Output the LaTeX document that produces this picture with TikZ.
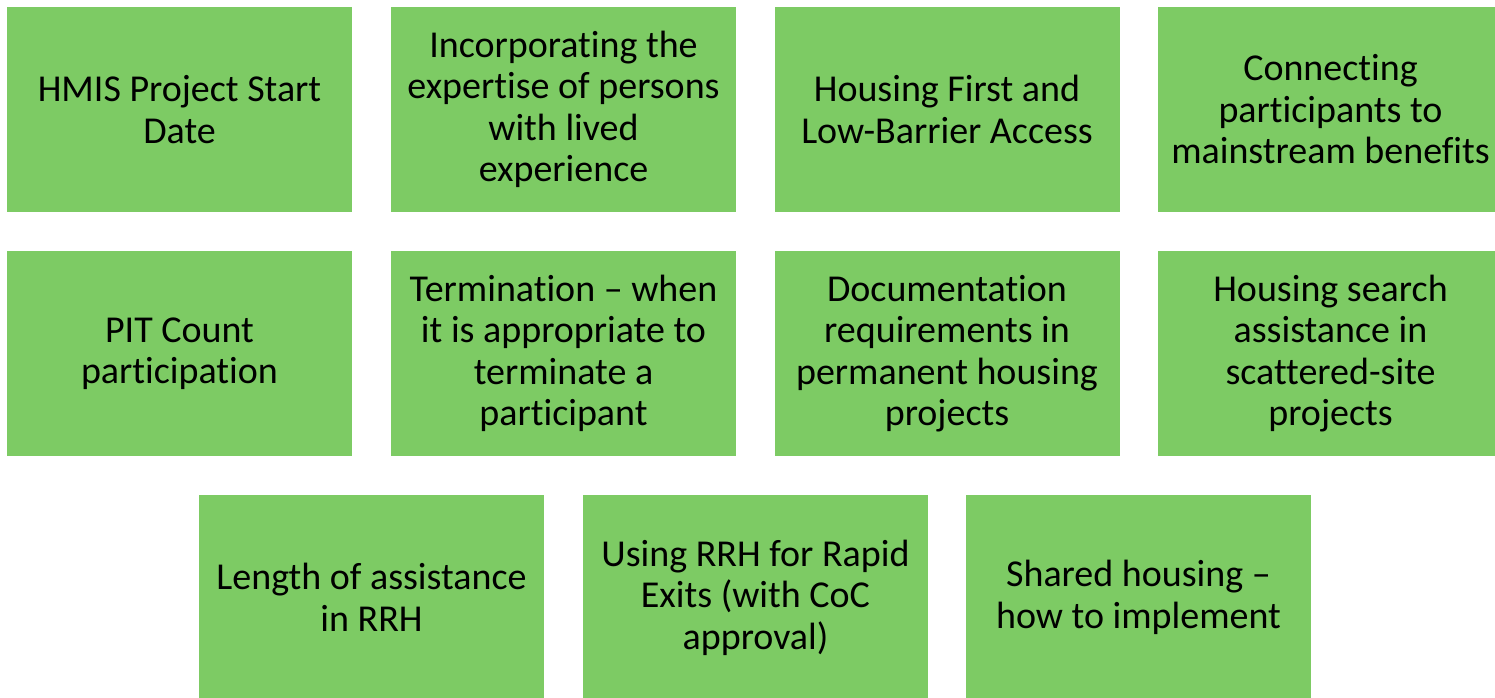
\documentclass[tikz,border=0pt]{standalone}
\usepackage{fontspec}
\setmainfont[RawFeature={-liga}]{Carlito}
\definecolor{tilegreen}{HTML}{7DCB64}
\begin{document}
\begin{tikzpicture}[x=1pt,y=-1pt,
  tile/.style={fill=tilegreen,draw=none,minimum width=345pt,minimum height=205pt,
    inner sep=0pt,align=center,font=\fontsize{38}{41.5}\selectfont}]
\useasboundingbox (0,0) rectangle (1495,698);
\fill[white] (0,0) rectangle (1495,698);
\clip (0,0) rectangle (1495,698);
% first row
\node[tile] (a1) at (179.5,109.5) {HMIS Project Start\\Date};
\node[tile] (a2) at (563.5,109.5) {Incorporating the\\expertise of persons\\with lived\\experience};
\node[tile] (a3) at (947,109.5) {Housing First and\\Low-Barrier Access};
\node[tile] (a4) at (1330.5,109.5) {Connecting\\participants to\\mainstream benefits};
% second row
\node[tile] (b1) at (179.5,353.5) {PIT Count\\participation};
\node[tile] (b2) at (563.5,353.5) {Termination – when\\it is appropriate to\\terminate a\\participant};
\node[tile] (b3) at (947,353.5) {Documentation\\requirements in\\permanent housing\\projects};
\node[tile] (b4) at (1330.5,353.5) {Housing search\\assistance in\\scattered-site\\projects};
% third row
\node[tile] (c1) at (371.5,597.5) {Length of assistance\\in RRH};
\node[tile] (c2) at (755.5,597.5) {Using RRH for Rapid\\Exits (with CoC\\approval)};
\node[tile] (c3) at (1138.5,597.5) {Shared housing –\\how to implement};
\end{tikzpicture}
\end{document}
